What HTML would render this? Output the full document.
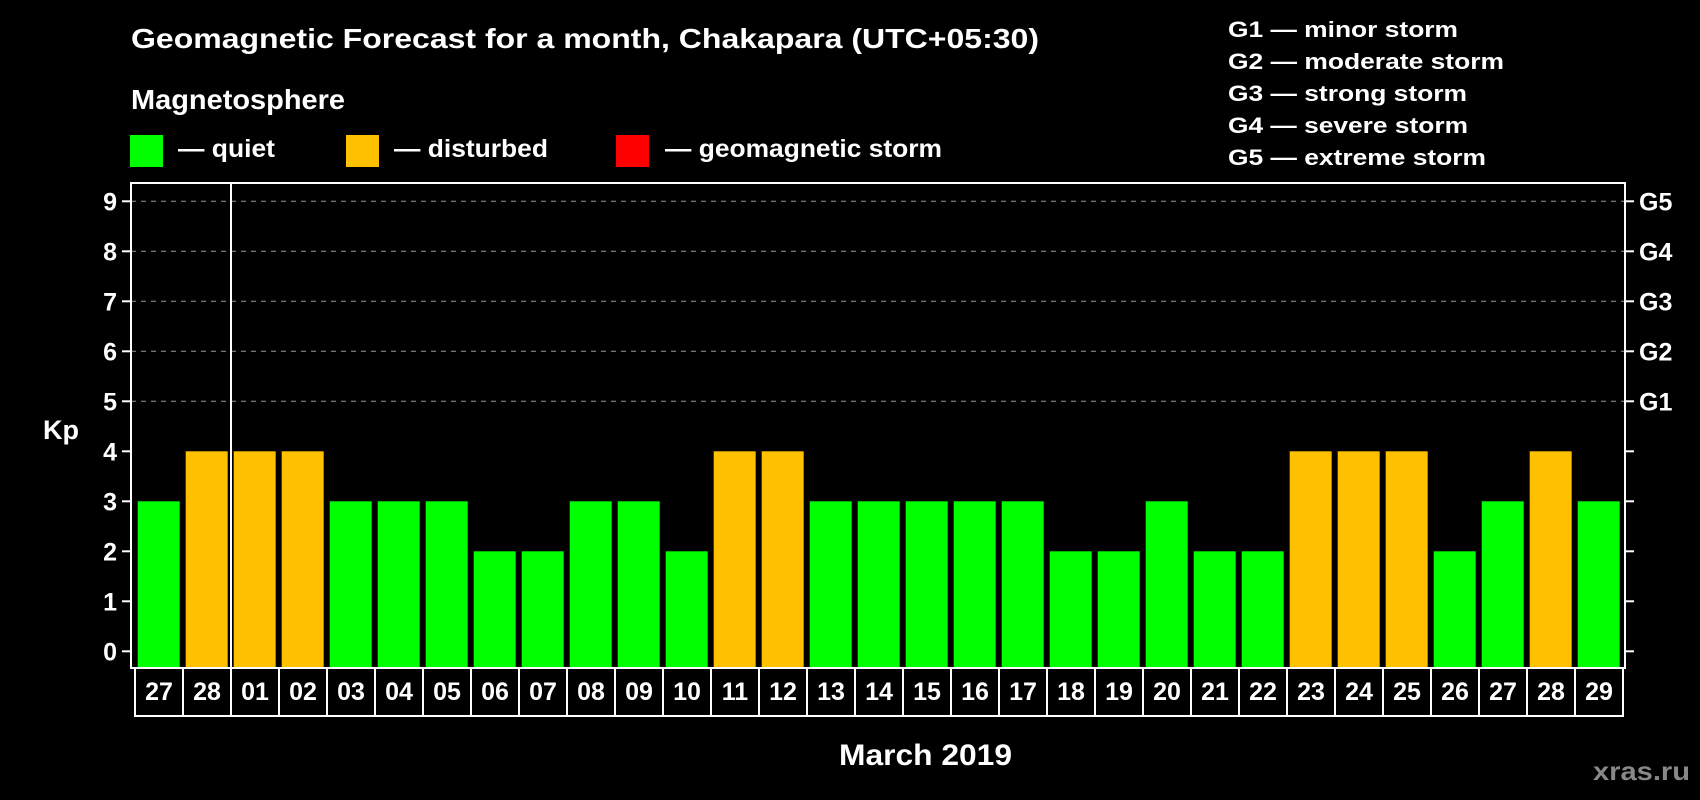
<!DOCTYPE html>
<html><head><meta charset="utf-8"><style>
html,body{margin:0;padding:0;background:#000;width:1700px;height:800px;overflow:hidden}
svg{display:block;font-family:"Liberation Sans",Arial,sans-serif;font-weight:bold}
</style></head><body>
<svg id="chart" width="1700" height="800" viewBox="0 0 1700 800" xmlns="http://www.w3.org/2000/svg">
<rect width="1700" height="800" fill="#000"/>
<text x="131" y="48" fill="#fff" font-size="28" textLength="908" lengthAdjust="spacingAndGlyphs">Geomagnetic Forecast for a month, Chakapara (UTC+05:30)</text>
<text x="131" y="109" fill="#fff" font-size="28" textLength="214" lengthAdjust="spacingAndGlyphs">Magnetosphere</text>
<rect x="130" y="135" width="33" height="32" fill="#00ff00"/>
<text x="178" y="157" fill="#fff" font-size="25" textLength="97" lengthAdjust="spacingAndGlyphs">— quiet</text>
<rect x="346" y="135" width="33" height="32" fill="#ffc000"/>
<text x="394" y="157" fill="#fff" font-size="25" textLength="154" lengthAdjust="spacingAndGlyphs">— disturbed</text>
<rect x="616" y="135" width="33" height="32" fill="#ff0000"/>
<text x="665" y="157" fill="#fff" font-size="25" textLength="277" lengthAdjust="spacingAndGlyphs">— geomagnetic storm</text>
<g fill="#fff" font-size="22">
<text x="1228" y="37" textLength="230" lengthAdjust="spacingAndGlyphs">G1 — minor storm</text>
<text x="1228" y="69" textLength="276" lengthAdjust="spacingAndGlyphs">G2 — moderate storm</text>
<text x="1228" y="101" textLength="239" lengthAdjust="spacingAndGlyphs">G3 — strong storm</text>
<text x="1228" y="133" textLength="240" lengthAdjust="spacingAndGlyphs">G4 — severe storm</text>
<text x="1228" y="165" textLength="258" lengthAdjust="spacingAndGlyphs">G5 — extreme storm</text>
</g>
<text x="43" y="439" fill="#fff" font-size="27">Kp</text>
<text x="839" y="765" fill="#fff" font-size="30" textLength="173" lengthAdjust="spacingAndGlyphs">March 2019</text>
<text x="1593" y="780" fill="#888" font-size="26" textLength="97" lengthAdjust="spacingAndGlyphs">xras.ru</text>
<g id="plot"></g>
</svg>
<script>
const categories = ["27","28","01","02","03","04","05","06","07","08","09","10","11","12","13","14","15","16","17","18","19","20","21","22","23","24","25","26","27","28","29"];
const kpValues = [3,4,4,4,3,3,3,2,2,3,3,2,4,4,3,3,3,3,3,2,2,3,2,2,4,4,4,2,3,4,3];
const yTicks = [0,1,2,3,4,5,6,7,8,9];
const gLabels = ["","","","","","G1","G2","G3","G4","G5"];

const SVGNS = "http://www.w3.org/2000/svg";
const plotG = document.getElementById("plot");
const plotLeft = 131, plotRight = 1625, plotTop = 183, plotBottom = 668;
const slot0 = 135, slotW = 48, barW = 42;
function yScale(v){ return 651.3 - v * 50; }
function xSlot(i){ return slot0 + i * slotW; }
function mk(tag, attrs){ const e = document.createElementNS(SVGNS, tag); for (const k in attrs) e.setAttribute(k, attrs[k]); plotG.appendChild(e); return e; }

yTicks.forEach(v => {
  const y = yScale(v);
  if (v >= 5) {
    const g = mk("line", {x1:plotLeft, x2:plotRight, y1:y, y2:y, stroke:"#999", "stroke-width":1, "stroke-dasharray":"5,5"});
    
    
  }
  const t = mk("line", {x1:122, x2:plotLeft, y1:y, y2:y, stroke:"#fff", "stroke-width":2});
  
  
  const t2 = mk("line", {x1:plotRight, x2:1634, y1:y, y2:y, stroke:"#fff", "stroke-width":2});
  
  
  const lb = mk("text", {x:117, y:y+9, fill:"#fff", "font-size":25, "text-anchor":"end"});
  lb.textContent = v;
  
  
  if (gLabels[v]) {
    const gl = mk("text", {x:1639, y:y+9, fill:"#fff", "font-size":25});
    gl.textContent = gLabels[v];
    
    
  }
});

kpValues.forEach((v, i) => {
  const col = v >= 5 ? "#ff0000" : (v >= 4 ? "#ffc000" : "#00ff00");
  const y = yScale(v);
  const b = mk("rect", {x:xSlot(i)+2.7, y:y, width:barW, height:plotBottom - y, fill:col});
  
  
});

const fr = mk("rect", {x:plotLeft, y:plotTop, width:plotRight-plotLeft, height:plotBottom-plotTop, fill:"none", stroke:"#fff", "stroke-width":2});


const sep = mk("line", {x1:231, x2:231, y1:plotTop, y2:717, stroke:"#fff", "stroke-width":2});



categories.forEach((c, i) => {
  const x = xSlot(i);
  const r = mk("rect", {x:x, y:plotBottom, width:slotW, height:48, fill:"none", stroke:"#fff", "stroke-width":2});
  
  
  const t = mk("text", {x:x + slotW/2, y:700, fill:"#fff", "font-size":25, "text-anchor":"middle"});
  t.textContent = c;
  
  
});
</script>
</body></html>
